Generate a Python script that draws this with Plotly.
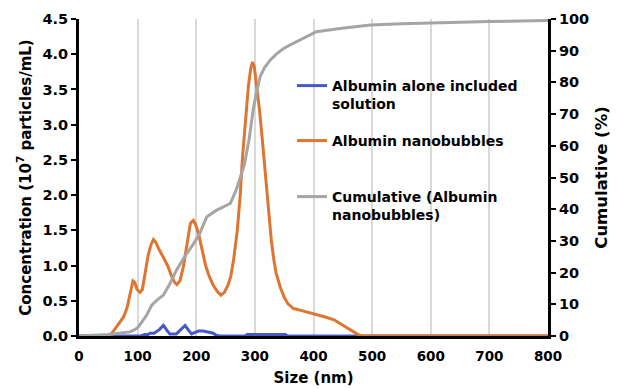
import plotly.graph_objects as go

# ---------------- data ----------------
blue_size = [0, 105, 112, 118, 121, 128, 137, 144, 150, 155, 166, 174, 181, 187, 192, 198, 204, 212,
             218, 224, 229, 234, 240, 283, 287, 352, 356, 800]
blue_conc = [0, 0, 0.02, 0.02, 0.04, 0.04, 0.09, 0.15, 0.08, 0.03, 0.03, 0.09, 0.15, 0.08, 0.03, 0.05, 0.07, 0.07,
             0.06, 0.04, 0.04, 0.01, 0, 0, 0.02, 0.02, 0, 0]

orange_size = [0, 40, 50, 55, 60, 65, 70, 76, 82, 87, 92, 95, 99, 104, 108, 113, 118, 123, 127, 131,
               137, 145, 152, 158, 163, 167, 172, 178, 184, 190, 195, 199, 204, 210, 216, 222, 229, 236,
               242, 248, 254, 259, 264, 270, 275, 279, 284, 289, 293, 296, 299, 303, 308, 312, 316, 320,
               324, 328, 332, 336, 343, 350, 356, 366, 380, 400, 420, 435, 451, 463, 474, 482, 510, 515,
               570, 575, 660, 665, 715, 720, 800]
orange_conc = [0, 0, 0.01, 0.03, 0.08, 0.14, 0.2, 0.27, 0.4, 0.6, 0.78, 0.76, 0.66, 0.62, 0.66, 0.9, 1.15, 1.3,
               1.37, 1.33, 1.22, 1.1, 0.98, 0.85, 0.76, 0.73, 0.78, 0.98, 1.3, 1.6, 1.64, 1.58, 1.45, 1.22,
               1.0, 0.85, 0.72, 0.63, 0.58, 0.62, 0.72, 0.85, 1.1, 1.5, 2.0, 2.55, 3.1, 3.55, 3.8, 3.89,
               3.82, 3.55, 3.2, 2.85, 2.45, 2.05, 1.7, 1.36, 1.1, 0.9, 0.7, 0.55, 0.46, 0.39, 0.36, 0.32,
               0.27, 0.23, 0.15, 0.08, 0.03, 0, 0, 0.01, 0.01, 0, 0, 0.01, 0.01, 0, 0]

cum_size = [0, 50, 87, 95, 101, 108, 115, 124, 134, 144, 155, 166, 180, 195, 206, 212, 218, 235, 258,
            268, 275, 282, 290, 297, 303, 309, 316, 326, 337, 349, 362, 377, 390, 400, 405, 445, 497,
            550, 604, 700, 800]
cum_pct = [0, 0.5, 1.3, 2, 2.8, 4.5, 6.5, 9.7, 11.5, 12.9, 16.5, 20.7, 25, 29, 32.3, 35, 37.6, 39.7, 41.8,
           46, 50, 54, 61.8, 71.3, 77, 81.8, 84.5, 87, 89, 90.7, 92, 93.4, 94.6, 95.6, 96, 97, 98.1,
           98.5, 98.8, 99.2, 99.5]

x_ticks = [0, 100, 200, 300, 400, 500, 600, 700, 800]
names = ["Albumin alone included<br>solution", "Albumin nanobubbles",
         "Cumulative (Albumin<br>nanobubbles)"]

BLUE = "#4659c6"
ORANGE = "#de7530"
GRAY = "#a5a5a5"
FONT = "DejaVu Sans, Liberation Sans, Arial, sans-serif"

fig = go.Figure()
fig.add_trace(go.Scatter(x=blue_size, y=blue_conc, mode="lines", name=names[0],
                         line=dict(color=BLUE, width=3), legend="legend"))
fig.add_trace(go.Scatter(x=orange_size, y=orange_conc, mode="lines", name=names[1],
                         line=dict(color=ORANGE, width=3), legend="legend2"))
fig.add_trace(go.Scatter(x=cum_size, y=cum_pct, mode="lines", name=names[2], yaxis="y2",
                         line=dict(color=GRAY, width=3), legend="legend3"))

# page body has an 8px margin: figure is 610x381, drawn at (8, 8)
W, H = 610, 381
PL, PT, PW, PH = 71, 11, 469, 317


def lx(px):
    return (px - 8 - PL) / PW


def ly(py):
    return 1 - (py - 8 - PT) / PH


leg_common = dict(bgcolor="rgba(0,0,0,0)", font=dict(family=FONT, size=14, color="#000", weight="bold"),
                  xanchor="left", yanchor="top", valign="top", borderwidth=0)

XTICKF = dict(family=FONT, size=13.5, color="#000", weight="bold")
YTICKF = dict(family=FONT, size=14.5, color="#000", weight="bold")
TITLEF = dict(family=FONT, size=15, color="#000", weight="bold")

fig.update_layout(
    width=W, height=H,
    margin=dict(l=PL, r=W - PL - PW, t=PT, b=H - PT - PH, autoexpand=False),
    paper_bgcolor="white", plot_bgcolor="white",
    font=dict(family=FONT, size=14, color="#000", weight="bold"),
    showlegend=True,
    legend=dict(x=lx(292), y=ly(70), **leg_common),
    legend2=dict(x=lx(292), y=ly(125), **leg_common),
    legend3=dict(x=lx(292), y=ly(181), **leg_common),
    xaxis=dict(range=[0, 800], tickvals=x_ticks, showgrid=True, gridcolor="#d9d9d9", gridwidth=1.5,
               showline=True, linecolor="#000", linewidth=2.5, ticks="", zeroline=False,
               tickfont=XTICKF, automargin=False, ticklabelstandoff=6,
               title=dict(text="Size (nm)", font=TITLEF, standoff=10)),
    yaxis=dict(range=[0, 4.5], dtick=0.5, tickformat=".1f", showgrid=False, zeroline=False,
               showline=True, linecolor="#000", linewidth=3, ticks="outside", ticklen=5, tickwidth=2,
               tickcolor="#000", tickfont=YTICKF, automargin=False,
               title=dict(text="Concentration (10<sup>7</sup> particles/mL)", font=TITLEF, standoff=8)),
    yaxis2=dict(range=[0, 100], dtick=10, overlaying="y", side="right", showgrid=False, zeroline=False,
                showline=True, linecolor="#000", linewidth=3, ticks="outside", ticklen=5, tickwidth=2,
                tickcolor="#000", tickfont=YTICKF, automargin=False,
                title=dict(text="Cumulative (%)", font=dict(family=FONT, size=16.5, color="#000",
                                                            weight="bold"), standoff=8)),
)

fig.write_html("out.html")
